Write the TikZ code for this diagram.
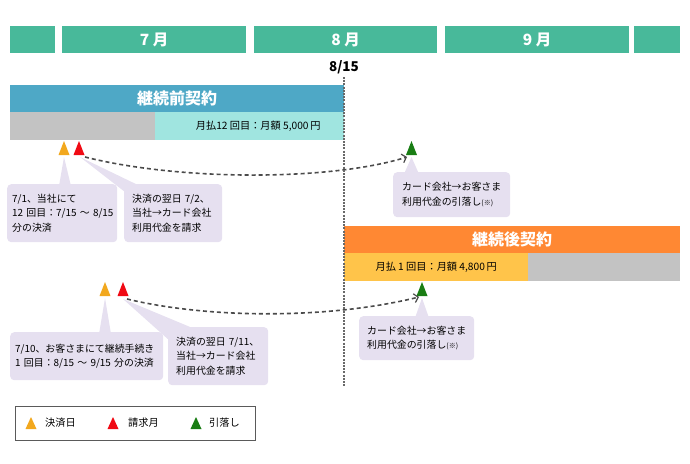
\documentclass[tikz,border=0pt]{standalone}
\usepackage{fontspec}
\setmainfont{Noto Sans CJK JP}
\usetikzlibrary{arrows.meta}
\definecolor{hgreen}{RGB}{72,185,154}
\definecolor{cblue}{RGB}{78,168,198}
\definecolor{ccyan}{RGB}{160,229,224}
\definecolor{cgray}{RGB}{195,195,195}
\definecolor{corange}{RGB}{255,136,51}
\definecolor{cyellow}{RGB}{255,196,74}
\definecolor{clav}{RGB}{230,224,240}
\definecolor{mkorange}{RGB}{242,168,30}
\definecolor{mkred}{RGB}{240,10,20}
\definecolor{mkgreen}{RGB}{25,125,20}
\definecolor{dgray}{RGB}{75,75,75}
\definecolor{lgray}{RGB}{90,90,90}
\definecolor{vgray}{RGB}{105,105,105}
\newcommand{\mk}[5]{% name, x, base y, height, colour
  \fill[#5] ({#2-5.5},#3) -- ({#2+5.5},#3) -- (#2,{#3-#4}) -- cycle;
  \coordinate (#1) at (#2,{#3-#4/2});}
\begin{document}
\begin{tikzpicture}[x=1pt,y=-1pt,
  hbar/.style={fill=hgreen, minimum height=27pt, inner sep=0pt, anchor=north west,
    text=white, font=\fontsize{15.5}{15.5}\selectfont\bfseries},
  cbar/.style={minimum height=27pt, inner sep=0pt, anchor=north west,
    text=white, font=\fontsize{16}{16}\selectfont\bfseries},
  pbar/.style={minimum height=28pt, inner sep=0pt, anchor=north west,
    text=black, font=\fontsize{10.2}{11}\selectfont},
  callout/.style={fill=clav, rounded corners=4pt, anchor=north west, align=left,
    inner ysep=2pt, font=\fontsize{9.9}{14.5}\selectfont},
  wedge/.style={fill=clav},
  dcurve/.style={draw=dgray, line width=1.6pt, dash pattern=on 4pt off 3pt,
    -{Straight Barb[length=4pt,width=9pt,line width=1.2pt]}},
  vline/.style={draw=vgray, line width=1.3pt, dash pattern=on 2pt off 1.2pt},
  legtext/.style={anchor=west, inner sep=0pt, font=\fontsize{10.2}{11}\selectfont}]
\useasboundingbox (0,0) rectangle (690,463);

% month header
\node[hbar, minimum width=45pt] (m6) at (10,26) {};
\node[hbar, minimum width=184pt] (m7) at (62,26) {7 月};
\node[hbar, minimum width=183pt] (m8) at (254,26) {8 月};
\node[hbar, minimum width=184pt] (m9) at (445,26) {9 月};
\node[hbar, minimum width=46pt] (m10) at (634,26) {};
\node[font=\fontsize{13.5}{13.5}\selectfont\bfseries, inner sep=0pt] (d15) at (344,67) {8/15};

% contract before
\node[cbar, fill=cblue, minimum width=334pt] (pre) at (10,85) {継続前契約};
\node[pbar, fill=cgray, minimum width=145pt] (pregray) at (10,112) {};
\node[pbar, fill=ccyan, minimum width=189pt] (precur) at (155,112) {\hspace*{17pt}月払12 回目：月額 5,000\,円};

% contract after
\node[cbar, fill=corange, minimum width=336pt] (post) at (344,226) {継続後契約};
\node[pbar, fill=cyellow, minimum width=184pt] (postcur) at (344,253) {月払 1 回目：月額 4,800\,円};
\node[pbar, fill=cgray, minimum width=152pt] (postgray) at (528,253) {};

% markers
\mk{o1}{64}{155}{14}{mkorange}
\mk{r1}{79}{155}{14}{mkred}
\mk{g1}{411.5}{155}{14}{mkgreen}
\mk{g2}{422}{296}{14}{mkgreen}
\mk{o2}{105}{296}{14}{mkorange}
\mk{r2}{123}{296}{14}{mkred}

% wedges
\fill[wedge] (64,157) -- (59,186) -- (71,186) -- cycle;
\fill[wedge] (80,157) -- (140,186) -- (125,192) -- cycle;
\fill[wedge] (411.5,157) -- (404,174) -- (419,174) -- cycle;
\fill[wedge] (422,298) -- (415,318) -- (429,318) -- cycle;
\fill[wedge] (105,298) -- (99,334) -- (111,334) -- cycle;
\fill[wedge] (123,299) -- (195,329) -- (170,341) -- cycle;

% callouts
\node[callout, inner xsep=5pt, text width=100pt, minimum height=58pt] (c1) at (7,184)
  {7/1、当社にて\\12~回目：7/15~～~8/15\\分の決済};
\node[callout, inner xsep=8pt, text width=82pt, minimum height=58pt] (c2) at (124,184)
  {決済の翌日 7/2、\\当社→カード会社\\利用代金を請求};
\node[callout, inner xsep=9pt, text width=99pt, minimum height=45pt] (c3) at (393,172)
  {カード会社→お客さま\\利用代金の引落し{\fontsize{7}{8}\selectfont(※)}};
\node[callout, inner xsep=8pt, text width=99pt, minimum height=44pt] (c4) at (359,316)
  {カード会社→お客さま\\利用代金の引落し{\fontsize{7}{8}\selectfont(※)}};
\node[callout, inner xsep=5pt, text width=143pt, minimum height=48pt] (c5) at (10,332)
  {7/10、お客さまにて継続手続き\\1~回目：8/15~～~9/15~分の決済};
\node[callout, inner xsep=8pt, text width=84pt, minimum height=58pt] (c6) at (168,327)
  {決済の翌日~7/11、\\当社→カード会社\\利用代金を請求};

% dashed curves
\coordinate (s1) at (85,157);
\coordinate (e1) at (407,157);
\coordinate (s2) at (127,299);
\coordinate (e2) at (419,297);
\draw[dcurve] (s1) .. controls (180,181) and (330,181) .. (e1);
\draw[dcurve] (s2) .. controls (210,319) and (330,319) .. (e2);

% 8/15 line
\coordinate (vtop) at (344,77);
\coordinate (vend) at (344,386);
\draw[vline] (vtop) -- (vend);

% legend
\node[draw=lgray, line width=1.3pt, minimum width=240pt, minimum height=34pt,
  inner sep=0pt, anchor=north west] (leg) at (15,406) {};
\mk{lo}{31}{429}{12}{mkorange}
\mk{lr}{113}{429}{12}{mkred}
\mk{lg}{196}{429}{12}{mkgreen}
\node[legtext] (l1) at (45,423) {決済日};
\node[legtext] (l2) at (128,423) {請求月};
\node[legtext] (l3) at (209,423) {引落し};
\end{tikzpicture}
\end{document}
